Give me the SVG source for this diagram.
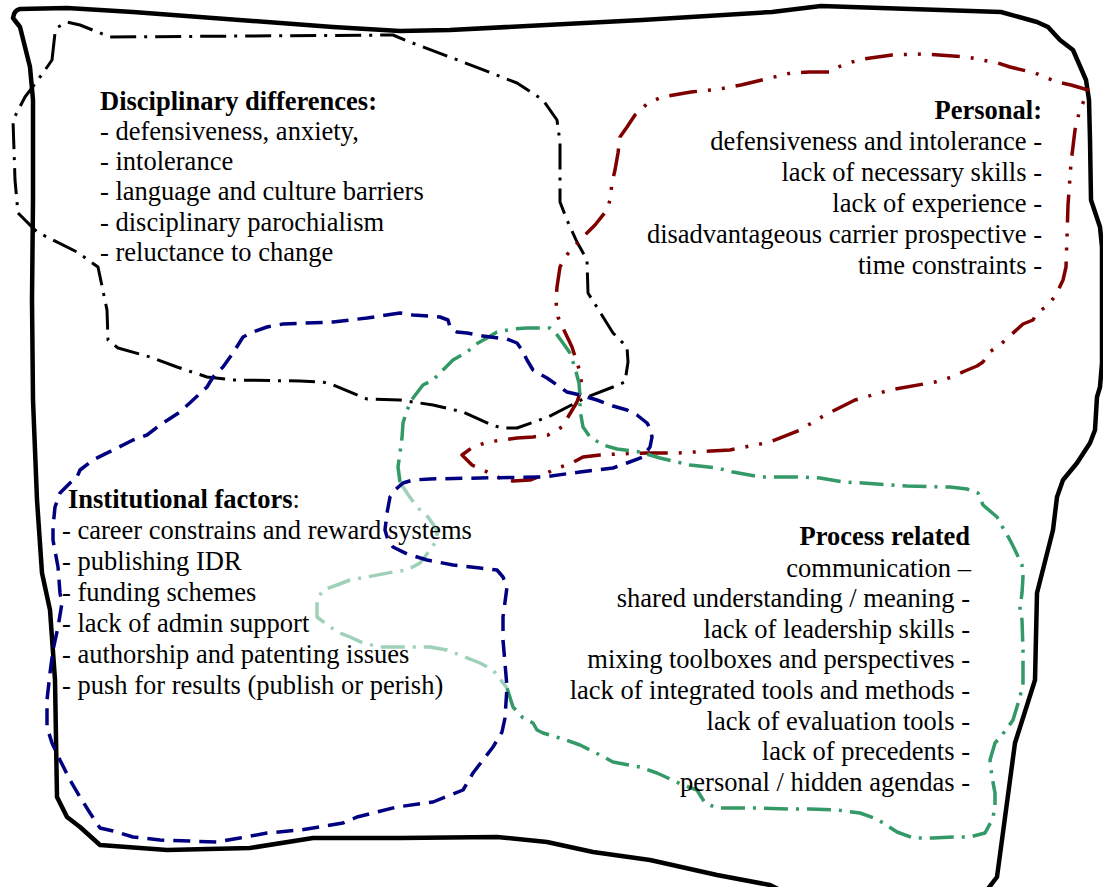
<svg xmlns="http://www.w3.org/2000/svg" width="1103" height="887" viewBox="0 0 1103 887">
  <style>
    .frame { fill: none; stroke: #000; stroke-width: 4.5; stroke-linejoin: round; }
    .loop { fill: none; stroke-width: 3.5; stroke-linejoin: round; stroke-linecap: butt; }
    .disc { stroke: #000; stroke-width: 3; stroke-dasharray: 26 8 3 8; }
    .pers { stroke: #800000; stroke-dasharray: 28 11 3 11 3 11; }
    .inst { stroke: #000080; stroke-dasharray: 17 9; }
    .proc { stroke: #339966; stroke-dasharray: 24 8 3 8; }
    .proc-pale { stroke: #9fd1b8; stroke-dasharray: 24 8 3 8; }
    text { font-family: "Liberation Serif", "Times New Roman", serif; font-size: 26.5px; fill: #000; }
    .h { font-weight: bold; }
    .r { text-anchor: end; }
  </style>

  <!-- hand-drawn outer frame -->
  <g id="frame">
    <path class="frame" d="M13,18 Q14,10 20,9 L67,8 L133,12 L333,27 L400,31 L450,30 L642,20 L772,12 L821,6 L1001,12 L1037,22 L1048,27 L1060,40 L1073,50 L1086,80 L1089,100 L1090,140 L1091,200 L1096,215 L1100,227 L1102,247 L1102,363 L1100,387 L1097,397 L1095,430 L1090,443 L1077,463 L1063,480 L1057,497 L1053,530 L1037,593 L1035,680 L1015,743 L997,877 L987,890 L980,900 L790,895 L770,885 L717,875 L650,860 L593,852 L547,842 L497,837 L400,838 L313,838 L250,848 L167,850 L100,845 L80,827 L67,817 L57,797 L55,680 L50,610 L42,573 L37,500 L33,400 L32,300 L33,200 L33,100 L30,67 L20,27 Z"/>
  </g>

  <!-- Disciplinary differences -->
  <g id="disciplinary">
    <path class="loop disc" d="M52,60 L55,33 L58,27 L67,22 L80,25 L110,37 L393,35 L410,42 L463,62 L517,83 L543,100 L557,120 L560,142 L560,202 L567,220 L577,242 L587,260 L588,293 L600,312 L613,333 L627,347 L628,362 L625,382 L613,387 L587,397 L548,417 L517,428 L502,428 L492,425 L463,412 L433,405 L400,400 L367,399 L333,385 L323,382 L300,381 L233,380 L207,377 L177,367 L150,357 L118,348 L108,340 L107,310 L98,267 L77,252 L37,232 L18,213 L15,180 L13,120 L25,97 L43,73 Z"/>
    <text class="h" x="100" y="110">Disciplinary differences:</text>
    <text x="100" y="140">- defensiveness, anxiety,</text>
    <text x="100" y="170">- intolerance</text>
    <text x="100" y="200">- language and culture barriers</text>
    <text x="100" y="231">- disciplinary parochialism</text>
    <text x="100" y="261">- reluctance to change</text>
  </g>

  <!-- Personal -->
  <g id="personal">
    <path class="loop pers" d="M620,137 L627,127 L635,115 L648,103 L662,97 L691,92 L720,89 L741,85 L770,78 L791,73 L809,72 L831,72 L838,67 L852,62 L863,59 L892,55 L922,54 L939,55 L967,57 L982,60 L998,63 L1010,67 L1035,73 L1057,82 L1071,85 L1088,90 L1079,113 L1075,130 L1071,163 L1068,205 L1067,237 L1066,267 L1063,280 L1056,295 L1047,306 L1037,313 L1033,320 L1023,324 L1012,334 L1000,345 L988,353 L983,362 L977,366 L965,371 L952,377 L935,382 L890,390 L855,400 L825,415 L800,430 L770,442 L730,450 L677,453 L647,453 L617,454 L600,455 L583,457 L570,464 L557,468 L543,475 L530,480 L513,481 L500,478 L472,465 L462,455 L473,447 L488,442 L517,438 L533,437 L548,435 L562,427 L577,402 L582,387 L580,372 L572,347 L563,328 L558,317 L556,302 L557,287 L560,267 L565,257 L573,248 L585,235 L595,225 L607,210 L610,200 L612,183 L615,170 L618,153 Z"/>
    <text class="h r" x="1042" y="119">Personal:</text>
    <text class="r" x="1042" y="150">defensiveness and intolerance -</text>
    <text class="r" x="1042" y="181">lack of necessary skills -</text>
    <text class="r" x="1042" y="212">lack of experience -</text>
    <text class="r" x="1042" y="243">disadvantageous carrier prospective -</text>
    <text class="r" x="1042" y="274">time constraints -</text>
  </g>

  <!-- Process related -->
  <g id="process">
    <path class="loop proc" d="M507,688 L513,707 L523,718 L533,723 L537,730 L543,733 L563,739 L580,745 L600,755 L613,762 L640,767 L657,773 L683,785 L697,790 L705,803 L717,808 L760,808 L790,809 L810,809 L837,810 L860,813 L877,819 L883,823 L897,832 L913,838 L933,838 L953,837 L970,837 L985,833 L993,818 L995,805 L995,793 L992,777 L990,760 L995,743 L1002,735 L1008,727 L1013,720 L1020,697 L1023,683 L1023,650 L1022,620 L1020,608 L1022,593 L1023,577 L1022,565 L1015,550 L1010,540 L1003,528 L997,517 L983,505 L978,493 L967,489 L950,487 L907,486 L863,483 L843,482 L820,478 L800,477 L760,477 L733,472 L717,468 L690,465 L660,458 L640,452 L617,449 L603,445 L590,437 L583,427 L580,410 L580,397 L579,383 L575,368 L570,353 L563,343 L555,332 L550,328 L527,328 L513,329 L497,332 L487,338 L478,343 L467,352 L453,360 L443,370 L433,380 L423,385 L413,398 L407,410 L403,423 L402,438 L400,453 L398,467 L400,482"/>
    <path class="loop proc-pale" d="M400,482 L407,493 L417,507 L428,517 L437,530 L437,540 L430,550 L420,563 L407,570 L393,572 L367,577 L350,580 L337,585 L323,590 L317,600 L317,617 L330,627 L340,633 L350,637 L363,643 L380,647 L430,647 L447,650 L460,655 L480,663 L493,670 L507,688"/>
    <text class="h r" x="970" y="545">Process related</text>
    <text class="r" x="971" y="577">communication –</text>
    <text class="r" x="970" y="607">shared understanding / meaning -</text>
    <text class="r" x="970" y="638">lack of leadership skills -</text>
    <text class="r" x="970" y="668">mixing toolboxes and perspectives -</text>
    <text class="r" x="970" y="699">lack of integrated tools and methods -</text>
    <text class="r" x="970" y="730">lack of evaluation tools -</text>
    <text class="r" x="970" y="760">lack of precedents -</text>
    <text class="r" x="970" y="791">personal / hidden agendas -</text>
  </g>

  <!-- Institutional factors -->
  <g id="institutional">
    <path class="loop inst" d="M400,313 L367,318 L333,322 L283,324 L267,327 L253,332 L243,337 L238,345 L233,353 L223,367 L213,377 L207,387 L193,400 L180,412 L160,425 L147,435 L133,440 L113,450 L93,460 L80,470 L77,477 L70,483 L60,493 L55,507 L53,527 L53,540 L58,567 L60,593 L62,603 L58,627 L53,650 L50,673 L47,700 L47,727 L52,743 L60,760 L70,780 L80,797 L90,813 L100,828 L113,831 L133,837 L160,840 L217,842 L240,838 L267,833 L300,830 L313,828 L343,823 L357,817 L397,807 L433,802 L463,790 L473,773 L483,760 L493,747 L502,732 L505,718 L507,687 L503,640 L503,617 L507,587 L503,577 L497,570 L480,568 L453,565 L427,560 L407,554 L393,547 L388,540 L385,530 L387,513 L390,497 L395,490 L403,483 L413,480 L430,479 L480,478 L543,477 L580,472 L613,468 L627,463 L643,457 L650,447 L652,437 L650,428 L647,423 L637,415 L627,410 L613,406 L597,400 L580,395 L567,392 L557,385 L547,378 L533,370 L527,360 L522,350 L517,343 L507,339 L483,336 L467,333 L457,332 L450,327 L448,320 L440,317 L413,315 Z"/>
    <text x="68" y="508"><tspan class="h">Institutional factors</tspan>:</text>
    <text x="62" y="539">- career constrains and reward systems</text>
    <text x="62" y="570">- publishing IDR</text>
    <text x="62" y="601">- funding schemes</text>
    <text x="62" y="632">- lack of admin support</text>
    <text x="62" y="663">- authorship and patenting issues</text>
    <text x="62" y="694">- push for results (publish or perish)</text>
  </g>
</svg>
